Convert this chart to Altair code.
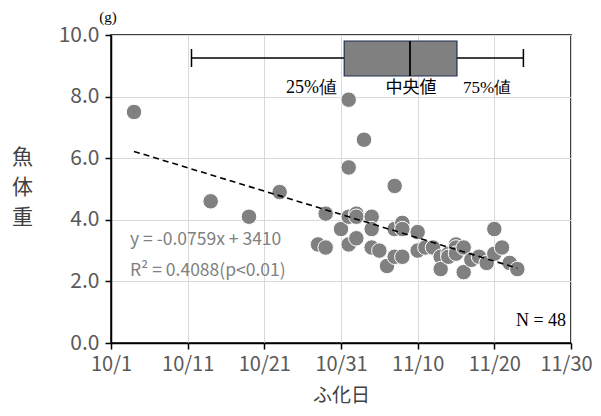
import altair as alt
import pandas as pd

# ---- data ----
hatch_dates = [
    "2022/10/04", "2022/10/14", "2022/10/19", "2022/10/23", "2022/10/28", "2022/10/29",
    "2022/10/29", "2022/10/31", "2022/11/01", "2022/11/01", "2022/11/01", "2022/11/01",
    "2022/11/02", "2022/11/02", "2022/11/02", "2022/11/03", "2022/11/04", "2022/11/04",
    "2022/11/04", "2022/11/05", "2022/11/06", "2022/11/07", "2022/11/07", "2022/11/07",
    "2022/11/08", "2022/11/08", "2022/11/08", "2022/11/10", "2022/11/10", "2022/11/11",
    "2022/11/12", "2022/11/13", "2022/11/13", "2022/11/14", "2022/11/14", "2022/11/15",
    "2022/11/15", "2022/11/15", "2022/11/16", "2022/11/16", "2022/11/17", "2022/11/18",
    "2022/11/19", "2022/11/20", "2022/11/20", "2022/11/21", "2022/11/22", "2022/11/23",
]
fish_weight = [
    7.5, 4.6, 4.1, 4.9, 3.2, 3.1,
    4.2, 3.7, 7.9, 5.7, 4.1, 3.2,
    4.2, 4.1, 3.4, 6.6, 4.1, 3.7,
    3.1, 3.0, 2.5, 5.1, 3.7, 2.8,
    3.9, 3.7, 2.8, 3.6, 3.0, 3.1,
    3.1, 2.8, 2.4, 2.9, 2.8, 3.2,
    3.1, 2.9, 3.1, 2.3, 2.7, 2.8,
    2.6, 3.7, 2.9, 3.1, 2.6, 2.4,
]
trend_dates = ["2022/10/04", "2022/11/23"]
trend_values = [6.22, 2.43]

box_min = "2022/10/11 12:00"
box_q1 = "2022/10/31 10:00"
box_median = "2022/11/09 00:00"
box_q3 = "2022/11/15 03:00"
box_max = "2022/11/23 19:00"

y_ticks = [0, 2, 4, 6, 8, 10]
x_tick_days = [(10, 1), (10, 11), (10, 21), (10, 31), (11, 10), (11, 20), (11, 30)]

points_df = pd.DataFrame({"date": hatch_dates, "w": fish_weight})
trend_df = pd.DataFrame({"date": trend_dates, "w": trend_values})
box_df = pd.DataFrame({"mn": [box_min], "q1": [box_q1], "md": [box_median],
                       "q3": [box_q3], "mx": [box_max]})

x_scale = alt.Scale(domain=[alt.DateTime(year=2022, month=10, date=1),
                            alt.DateTime(year=2022, month=11, date=30)])
y_scale = alt.Scale(domain=[0, 10])

SANS = "Noto Sans CJK JP"
SERIF = "Liberation Serif"

x_axis = alt.Axis(
    values=[alt.DateTime(year=2022, month=m, date=d) for m, d in x_tick_days],
    format="%-m/%-d", title="ふ化日", grid=True, labelFontSize=20,
    labelOffset={"condition": {"test": "datum.index === 1", "value": -5}, "value": 0},
    labelPadding=5, tickSize=6, titleFontSize=19, titleFont=SANS,
    titleFontWeight="normal", titleColor="#404040", titleX=230, titleY=52,
    titleBaseline="middle", titleAnchor="middle", labelFlush=False,
)
y_axis = alt.Axis(
    values=y_ticks, format=".1f", title=["魚", "体", "重"], titleAngle=0,
    grid=True, labelFontSize=21, labelPadding=6, tickSize=6,
    titleFontSize=21, titleFont=SANS, titleFontWeight="normal",
    titleColor="#404040", titleX=-89, titleY=111, titleBaseline="top",
    titleAlign="center", titleLineHeight=30,
)

points = alt.Chart(points_df).mark_circle(
    size=240, color="#808080", opacity=1, stroke="white", strokeWidth=1
).encode(
    x=alt.X("date:T", scale=x_scale, axis=x_axis),
    y=alt.Y("w:Q", scale=y_scale, axis=y_axis),
)

trend = alt.Chart(trend_df).mark_line(
    color="black", strokeDash=[6, 4], strokeWidth=1.6
).encode(
    x=alt.X("date:T", scale=x_scale),
    y=alt.Y("w:Q", scale=y_scale),
)

whisker = alt.Chart(box_df).mark_rule(color="black", strokeWidth=1.5).encode(
    x=alt.X("mn:T", scale=x_scale), x2="mx:T", y=alt.value(23)
)
cap_l = alt.Chart(box_df).mark_rule(color="black", strokeWidth=1.5).encode(
    x=alt.X("mn:T", scale=x_scale), y=alt.value(14), y2=alt.value(32)
)
cap_r = alt.Chart(box_df).mark_rule(color="black", strokeWidth=1.5).encode(
    x=alt.X("mx:T", scale=x_scale), y=alt.value(14), y2=alt.value(32)
)
box = alt.Chart(box_df).mark_rect(
    color="#808080", stroke="#1f2f4f", strokeWidth=1.2
).encode(
    x=alt.X("q1:T", scale=x_scale), x2="q3:T", y=alt.value(6), y2=alt.value(41)
)
median = alt.Chart(box_df).mark_rule(color="black", strokeWidth=1.8).encode(
    x=alt.X("md:T", scale=x_scale), y=alt.value(6), y2=alt.value(41)
)


def label(text, x, y, font, size, color="black", align="center"):
    return alt.Chart(pd.DataFrame({"t": [text]})).mark_text(
        font=font, fontSize=size, color=color, align=align, baseline="middle"
    ).encode(text="t:N", x=alt.value(x), y=alt.value(y))


labels = [
    label("25%値", 226, 53, SERIF, 18, align="right"),
    label("中央値", 300, 53, SANS, 17),
    label("75%値", 376, 53, SERIF, 17),
    label("(g)", -3, -18, SERIF, 15, align="center"),
    label("y = -0.0759x + 3410", 19, 205, SANS, 17.5, color="#808080", align="left"),
    label("R² = 0.4088(p<0.01)", 19, 236, SANS, 17.5, color="#808080", align="left"),
    label("N = 48", 430, 286, SERIF, 18),
]

chart = alt.layer(points, trend, whisker, cap_l, cap_r, box, median, *labels).properties(
    width=460, height=308,
    autosize=alt.AutoSizeParams(type="none"),
    padding={"left": 103, "top": 27, "right": 22, "bottom": 65},
).configure_view(
    stroke="black", strokeWidth=1.5
).configure_axis(
    gridColor="#d9d9d9", gridWidth=1, domainColor="black", domainWidth=1.5,
    tickColor="black", tickWidth=1.5, labelColor="#595959", labelFont=SANS,
)

chart.save("out.html", embed_options={"renderer": "svg", "actions": False})
